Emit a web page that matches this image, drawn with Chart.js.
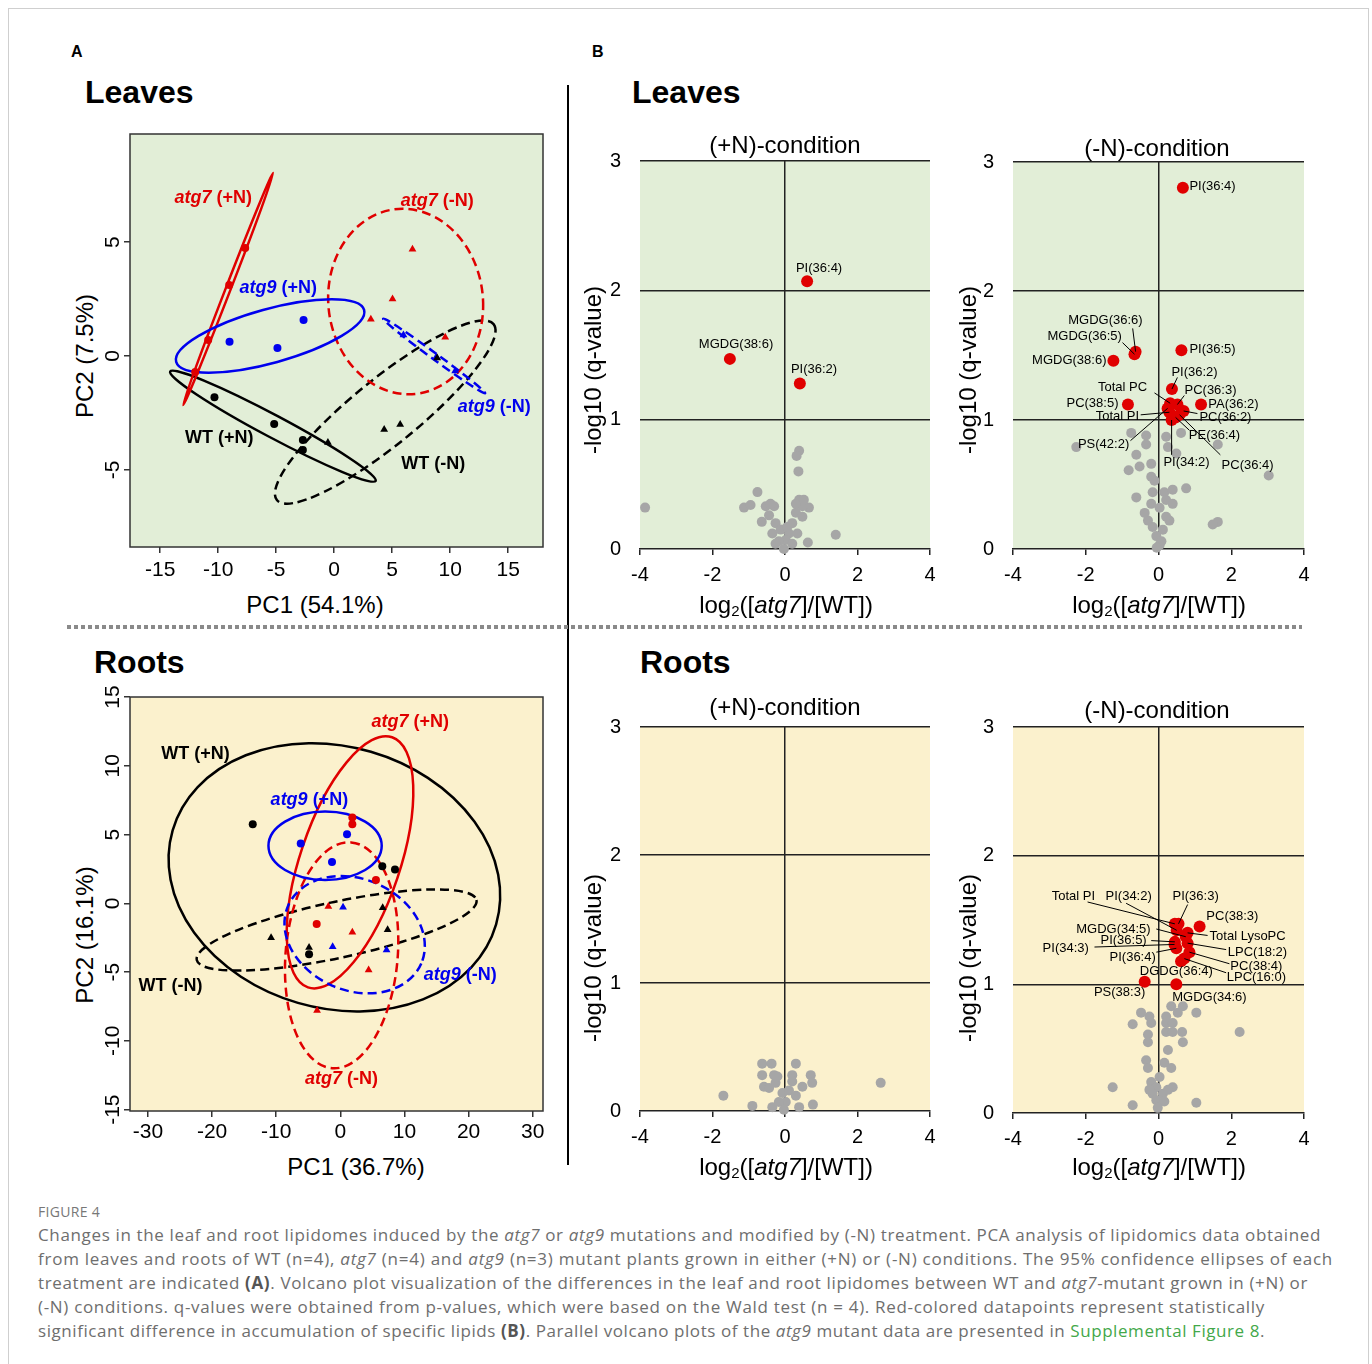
<!DOCTYPE html>
<html>
<head>
<meta charset="utf-8">
<script src="https://cdn.jsdelivr.net/npm/chart.js@4.4.1/dist/chart.umd.min.js"></script>
<style>
  body { margin: 0; background: #fff; width: 1372px; height: 1364px; position: relative; overflow: hidden;
         font-family: "Liberation Sans", Arial, Helvetica, sans-serif; }
  .frame { position: absolute; left: 8px; top: 8px; width: 1359px; height: 1400px; border: 1px solid #cfcfcf; }
  .t { position: absolute; white-space: nowrap; color: #000; }
  .letter { font-weight: bold; font-size: 16px; line-height: 20px; }
  .head { font-weight: bold; font-size: 32px; line-height: 36px; }
  .ctitle { font-size: 24px; line-height: 28px; width: 300px; text-align: center; }
  .xt { font-size: 24px; line-height: 28px; width: 300px; text-align: center; }
  .xt sub { font-size: 15px; vertical-align: -3px; line-height: 0; }
  .yt { font-size: 24px; line-height: 28px; width: 260px; text-align: center; transform: rotate(-90deg); }
  canvas { position: absolute; }
  .vline { position: absolute; left: 567px; top: 85px; width: 2px; height: 1080px; background: #000; }
  .dots { position: absolute; left: 67px; top: 625px; width: 1235px; height: 4px;
          background: repeating-linear-gradient(to right, #8a8a8a 0 4px, transparent 4px 7px); }
  .cap { position: absolute; left: 38px; white-space: nowrap; font-family: "Open Sans", sans-serif;
         font-size: 17px; line-height: 24px; color: #6e6e6e; }
  .cap b { color: #555; }
  .fig { position: absolute; left: 38px; top: 1202px; font-family: "Open Sans", sans-serif; font-size: 14px;
         line-height: 20px; color: #777; white-space: nowrap; letter-spacing: 0.3px; }
  .g { color: #43a84a; }
</style>
</head>
<body>
<div class="frame"></div>

<div class="t letter" style="left:71px;top:42px">A</div>
<div class="t letter" style="left:592px;top:42px">B</div>
<div class="t head" style="left:85px;top:74px">Leaves</div>
<div class="t head" style="left:632px;top:74px">Leaves</div>
<div class="t head" style="left:94px;top:644px">Roots</div>
<div class="t head" style="left:640px;top:644px">Roots</div>

<div class="vline"></div>
<div class="dots"></div>

<canvas id="pcaLeaf" width="460" height="470" style="left:100px;top:120px"></canvas>
<canvas id="pcaRoot" width="460" height="470" style="left:100px;top:680px"></canvas>
<canvas id="volLeafPlus" width="370" height="470" style="left:575px;top:130px"></canvas>
<canvas id="volLeafMinus" width="371" height="470" style="left:948px;top:130px"></canvas>
<canvas id="volRootPlus" width="370" height="465" style="left:575px;top:696px"></canvas>
<canvas id="volRootMinus" width="371" height="467" style="left:948px;top:696px"></canvas>

<div class="t ctitle" style="left:635px;top:131px">(+N)-condition</div>
<div class="t ctitle" style="left:1007px;top:134px">(-N)-condition</div>
<div class="t ctitle" style="left:635px;top:693px">(+N)-condition</div>
<div class="t ctitle" style="left:1007px;top:696px">(-N)-condition</div>

<div class="t xt" style="left:165px;top:591px">PC1 (54.1%)</div>
<div class="t xt" style="left:206px;top:1153px">PC1 (36.7%)</div>
<div class="t xt" style="left:636px;top:591px">log<sub>2</sub>([<i>atg7</i>]/[WT])</div>
<div class="t xt" style="left:1009px;top:591px">log<sub>2</sub>([<i>atg7</i>]/[WT])</div>
<div class="t xt" style="left:636px;top:1153px">log<sub>2</sub>([<i>atg7</i>]/[WT])</div>
<div class="t xt" style="left:1009px;top:1153px">log<sub>2</sub>([<i>atg7</i>]/[WT])</div>

<div class="t yt" style="left:-45px;top:342px">PC2 (7.5%)</div>
<div class="t yt" style="left:-45px;top:921px">PC2 (16.1%)</div>
<div class="t yt" style="left:463px;top:356px">-log10 (q-value)</div>
<div class="t yt" style="left:838px;top:356px">-log10 (q-value)</div>
<div class="t yt" style="left:463px;top:944px">-log10 (q-value)</div>
<div class="t yt" style="left:838px;top:944px">-log10 (q-value)</div>

<div class="fig">FIGURE 4</div>
<div class="cap" data-w="1283" style="top:1223px">Changes in the leaf and root lipidomes induced by the <i>atg7</i> or <i>atg9</i> mutations and modified by (-N) treatment. PCA analysis of lipidomics data obtained</div>
<div class="cap" data-w="1295" style="top:1247px">from leaves and roots of WT (n=4), <i>atg7</i> (n=4) and <i>atg9</i> (n=3) mutant plants grown in either (+N) or (-N) conditions. The 95% confidence ellipses of each</div>
<div class="cap" data-w="1270" style="top:1271px">treatment are indicated <b>(A)</b>. Volcano plot visualization of the differences in the leaf and root lipidomes between WT and <i>atg7</i>-mutant grown in (+N) or</div>
<div class="cap" data-w="1227" style="top:1295px">(-N) conditions. q-values were obtained from p-values, which were based on the Wald test (n = 4). Red-colored datapoints represent statistically</div>
<div class="cap" data-w="1227" style="top:1319px">significant difference in accumulation of specific lipids <b>(B)</b>. Parallel volcano plots of the <i>atg9</i> mutant data are presented in <span class="g">Supplemental Figure 8</span>.</div>

<script>
// ---- PCA scores (PC1, PC2) ----
const pcaGroups = ['WT (+N)', 'WT (-N)', 'atg7 (+N)', 'atg7 (-N)', 'atg9 (+N)', 'atg9 (-N)'];

const leafWTPlus   = [[-10.32, -1.81], [-5.17, -2.98], [-2.70, -3.68], [-2.70, -4.12]];
const leafWTMinus  = [[-0.54, -3.80], [4.31, -3.22], [5.69, -3.00], [8.88, -0.09]];
const leafAtg7Plus = [[-7.67, 4.74], [-9.05, 3.11], [-10.86, 0.70], [-11.98, -0.70]];
const leafAtg7Minus = [[6.75, 4.68], [5.03, 2.50], [3.16, 1.61], [9.57, 0.82]];
const leafAtg9Plus = [[-9.02, 0.63], [-4.89, 0.35], [-2.64, 1.58]];
const leafAtg9Minus = [[5.97, 0.92], [8.80, -0.04], [10.43, -0.66]];

const rootWTPlus   = [[-13.66, 5.75], [6.54, 2.69], [8.52, 2.45], [-4.88, -3.71]];
const rootWTMinus  = [[-10.80, -2.50], [-4.88, -3.22], [6.60, -0.32], [7.37, -1.92]];
const rootAtg7Plus = [[1.87, 6.23], [1.87, 5.75], [5.55, 1.70], [-3.69, -1.50]];
const rootAtg7Minus = [[-1.87, -0.24], [1.87, -2.11], [4.41, -4.85], [-3.63, -7.80]];
const rootAtg9Plus = [[-6.18, 4.34], [1.04, 5.02], [-1.30, 3.00]];
const rootAtg9Minus = [[0.42, -0.29], [-1.20, -3.15], [7.21, -3.40]];

// 95% ellipses: centre, semi-axis a, semi-axis b (PC units), same group order
const leafEllipses = [
  [[-5.28, -3.08], [8.86, -2.40], [-0.45, -0.43]],
  [[4.40, -2.46], [9.34, 3.86], [1.79, -1.12]],
  [[-9.14, 2.94], [3.88, 5.09], [0.20, -0.04]],
  [[6.16, 2.39], [6.68, -0.25], [0.15, 4.06]],
  [[-5.52, 0.88], [8.10, 1.14], [0.62, -1.14]],
  [[8.62, 0.00], [4.40, -1.64], [-0.15, -0.11]]
];
const rootEllipses = [
  [[-0.93, 1.89], [25.22, -3.42], [-5.69, -9.13]],
  [[-0.58, -1.94], [21.81, 2.18], [0.92, -1.99]],
  [[1.51, 2.98], [6.56, 9.09], [7.37, -1.16]],
  [[0.20, -3.78], [1.48, 8.21], [8.71, -0.34]],
  [[-2.38, 4.18], [8.83, 0.00], [0.00, -2.49]],
  [[2.23, -2.28], [10.39, -2.09], [-3.44, -3.72]]
];
// group name placement (PC units)
const leafGroupTags = [[-9.91, -3.60], [8.53, -4.74], [-10.43, 6.93], [8.88, 6.80], [-4.83, 2.98], [13.79, -2.24]];
const rootGroupTags = [[-22.6, 10.84], [-26.48, -6.04], [10.9, 13.16], [0.16, -12.80], [-4.83, 7.49], [18.69, -5.24]];

const leafPcaXTicks = [-15, -10, -5, 0, 5, 10, 15];
const leafPcaYTicks = [-5, 0, 5];
const rootPcaXTicks = [-30, -20, -10, 0, 10, 20, 30];
const rootPcaYTicks = [-15, -10, -5, 0, 5, 10, 15];

// ---- volcano plots: [log2 ratio, -log10 q] ----
const volXTicks = [-4, -2, 0, 2, 4];
const volYTicks = [0, 1, 2, 3];

const leafPlusGray = [[-3.86, 0.32], [-0.76, 0.44], [-1.13, 0.32], [-0.95, 0.34], [-0.64, 0.21], [0.39, 0.76],
  [0.32, 0.72], [0.37, 0.60], [1.40, 0.11], [0.63, 0.05], [-0.53, 0.33], [-0.30, 0.33], [-0.44, 0.26],
  [-0.26, 0.20], [-0.35, 0.12], [0.39, 0.38], [0.66, 0.32], [0.48, 0.33], [0.30, 0.28], [0.20, 0.20],
  [0.48, 0.25], [0.34, 0.12], [0.11, 0.12], [0.02, 0.07], [-0.17, 0.06], [-0.26, 0.04], [0.20, 0.04],
  [-0.03, 0.00], [-0.12, 0.15], [0.06, 0.17], [-0.40, 0.35], [0.30, 0.35], [0.52, 0.38]];
const leafPlusSig = [['PI(36:4)', 0.61, 2.07], ['MGDG(38:6)', -1.52, 1.47], ['PI(36:2)', 0.41, 1.28]];
const leafPlusTags = [[0.94, 2.17, 'center'], [-1.35, 1.58, 'center'], [0.80, 1.39, 'center']];

const leafMinusGray = [[-2.26, 0.79], [-0.75, 0.90], [-0.34, 0.88], [-0.61, 0.73], [-0.82, 0.61], [-0.52, 0.64],
  [-0.20, 0.66], [-0.34, 0.81], [0.21, 0.87], [0.26, 0.79], [0.49, 0.74], [0.62, 0.90], [1.63, 0.81],
  [3.03, 0.57], [0.76, 0.47], [-0.20, 0.56], [-0.61, 0.40], [-0.16, 0.44], [0.16, 0.44], [0.39, 0.46],
  [0.21, 0.38], [-0.20, 0.35], [0.39, 0.35], [0.03, 0.32], [-0.29, 0.22], [0.30, 0.22], [-0.16, 0.17],
  [0.12, 0.15], [-0.06, 0.10], [0.03, 0.03], [1.63, 0.21], [1.49, 0.19], [0.21, 0.25], [-0.38, 0.28],
  [-0.11, 0.53], [0.08, 0.06], [-0.05, 0.01]];
const leafMinusSig = [['PI(36:4)', 0.67, 2.80], ['MGDG(36:6)', -0.63, 1.53], ['MGDG(36:5)', -0.66, 1.51],
  ['MGDG(38:6)', -1.24, 1.46], ['PI(36:5)', 0.63, 1.54], ['PI(36:2)', 0.37, 1.24], ['Total PC', 0.32, 1.13],
  ['PC(36:3)', 0.52, 1.12], ['PC(38:5)', -0.84, 1.12], ['PA(36:2)', 1.17, 1.12], ['Total PI', 0.30, 1.06],
  ['PC(36:2)', 0.69, 1.07], ['PS(42:2)', 0.25, 1.09], ['PE(36:4)', 0.47, 1.02], ['PI(34:2)', 0.36, 1.00],
  ['PC(36:4)', 0.58, 1.04]];
// [label x, label y, align, leader start x, leader start y]
const leafMinusTags = [[0.85, 2.81, 'left'], [-1.46, 1.77, 'center', -0.71, 1.71], [-2.03, 1.65, 'center', -0.99, 1.60],
  [-1.43, 1.46, 'right'], [0.85, 1.55, 'left'], [0.99, 1.37, 'center', 0.52, 1.33],
  [-0.99, 1.25, 'center', -0.11, 1.21], [1.43, 1.23, 'center', 0.71, 1.19], [-1.10, 1.13, 'right'],
  [1.37, 1.12, 'left'], [-1.13, 1.03, 'center', -0.49, 1.04], [1.84, 1.02, 'center', 1.07, 1.05],
  [-1.51, 0.81, 'center', -0.77, 0.84], [1.54, 0.88, 'center', 0.85, 0.92], [0.77, 0.67, 'center', 0.36, 0.73],
  [2.45, 0.65, 'center', 1.70, 0.73]];

const rootPlusGray = [[-0.63, 0.37], [-0.37, 0.37], [0.30, 0.37], [-1.70, 0.12], [-0.90, 0.04], [2.64, 0.22],
  [-0.63, 0.28], [-0.30, 0.28], [0.71, 0.28], [0.20, 0.28], [-0.58, 0.19], [-0.26, 0.22], [0.48, 0.19],
  [0.75, 0.22], [0.39, 0.03], [0.77, 0.05], [-0.35, 0.03], [-0.07, 0.14], [0.11, 0.16], [0.02, 0.07],
  [-0.17, 0.07], [-0.03, 0.01], [0.20, 0.23], [-0.21, 0.27], [-0.44, 0.18], [0.30, 0.12]];

const rootMinusGray = [[-0.48, 0.78], [-0.71, 0.69], [-0.25, 0.75], [-0.20, 0.70], [-0.29, 0.61], [-0.29, 0.55],
  [-0.34, 0.41], [-0.29, 0.35], [0.35, 0.83], [0.67, 0.83], [0.53, 0.78], [0.21, 0.75], [0.21, 0.70],
  [0.39, 0.70], [0.21, 0.63], [0.39, 0.63], [0.65, 0.63], [1.04, 0.78], [0.67, 0.55], [2.23, 0.63],
  [0.26, 0.49], [0.16, 0.39], [0.35, 0.35], [-1.26, 0.20], [0.39, 0.20], [1.04, 0.08], [-0.71, 0.06],
  [-0.20, 0.24], [-0.06, 0.20], [-0.16, 0.15], [0.12, 0.15], [-0.06, 0.10], [0.16, 0.09], [-0.02, 0.04],
  [-0.25, 0.18], [0.26, 0.18], [0.03, 0.28]];
const rootMinusSig = [['Total PI', 0.45, 1.47], ['PI(34:2)', 0.50, 1.42], ['PI(36:3)', 0.55, 1.47],
  ['PC(38:3)', 1.13, 1.45], ['MGDG(34:5)', 0.75, 1.37], ['Total LysoPC', 0.80, 1.40], ['PI(36:5)', 0.45, 1.33],
  ['PI(34:3)', 0.44, 1.31], ['LPC(18:2)', 0.80, 1.32], ['PI(36:4)', 0.49, 1.28], ['PC(38:4)', 0.85, 1.25],
  ['DGDG(36:4)', 0.62, 1.18], ['LPC(16:0)', 0.71, 1.20], ['PS(38:3)', -0.38, 1.02], ['MGDG(34:6)', 0.49, 1.00]];
const rootMinusTags = [[-2.34, 1.68, 'center', -1.95, 1.64], [-0.82, 1.68, 'center', -0.89, 1.63],
  [1.02, 1.68, 'center', 0.80, 1.62], [2.03, 1.53, 'center'], [-1.24, 1.43, 'center', -0.06, 1.43],
  [2.45, 1.37, 'center', 1.35, 1.38], [-0.96, 1.34, 'center', -0.20, 1.34], [-2.55, 1.28, 'center', -1.76, 1.29],
  [2.72, 1.25, 'center', 1.86, 1.27], [-0.71, 1.21, 'center', -0.06, 1.25], [2.69, 1.14, 'center', 1.95, 1.16],
  [0.49, 1.10, 'center'], [2.69, 1.05, 'center', 1.86, 1.09], [-1.07, 0.94, 'center'], [1.40, 0.90, 'center']];

// ---- styling ----
const FONT = '"Liberation Sans", Arial, Helvetica, sans-serif';
const RED = '#e00000', BLUE = '#0000ee', BLACK = '#000000', GRAY = '#a6a6a6';
const LEAF_BG = '#e2eed7', ROOT_BG = '#fbf1cd';
const groupStyle = [
  { color: BLACK, shape: 'circle', dashed: false },
  { color: BLACK, shape: 'triangle', dashed: true },
  { color: RED, shape: 'circle', dashed: false },
  { color: RED, shape: 'triangle', dashed: true },
  { color: BLUE, shape: 'circle', dashed: false },
  { color: BLUE, shape: 'triangle', dashed: true }
];

const toXY = arr => arr.map(p => ({ x: p[0], y: p[1] }));
const fixTicks = vals => s => { s.ticks = vals.map(v => ({ value: v })); };

// ---- plugins ----
const panelFill = {
  id: 'panelFill',
  beforeDraw(chart, args, opts) {
    const { ctx, chartArea: a } = chart;
    ctx.save();
    ctx.fillStyle = opts.color;
    ctx.fillRect(a.left, a.top, a.right - a.left, a.bottom - a.top);
    ctx.restore();
  }
};

const frameBox = {
  id: 'frameBox',
  afterDraw(chart) {
    const { ctx, chartArea: a } = chart;
    ctx.save();
    ctx.strokeStyle = '#333';
    ctx.lineWidth = 1.5;
    ctx.strokeRect(a.left, a.top, a.right - a.left, a.bottom - a.top);
    ctx.restore();
  }
};

// rotated y tick labels (vertical text, as in the R plots)
const sideTicks = {
  id: 'sideTicks',
  afterDraw(chart, args, opts) {
    const { ctx, chartArea: a, scales: { y } } = chart;
    ctx.save();
    ctx.font = `21px ${FONT}`;
    ctx.fillStyle = '#000';
    ctx.textAlign = 'center';
    ctx.textBaseline = 'middle';
    y.ticks.forEach(t => {
      ctx.save();
      ctx.translate(a.left - opts.offset, y.getPixelForValue(t.value));
      ctx.rotate(-Math.PI / 2);
      ctx.fillText(String(t.value), 0, 0);
      ctx.restore();
    });
    ctx.restore();
  }
};

const ellipses = {
  id: 'ellipses',
  beforeDatasetsDraw(chart, args, opts) {
    const { ctx, chartArea: a, scales: { x, y } } = chart;
    ctx.save();
    ctx.beginPath();
    ctx.rect(a.left, a.top, a.right - a.left, a.bottom - a.top);
    ctx.clip();
    opts.list.forEach((e, i) => {
      const st = groupStyle[i];
      const px = x.getPixelForValue(e[0][0]), py = y.getPixelForValue(e[0][1]);
      const ax = x.getPixelForValue(e[0][0] + e[1][0]) - px, ay = y.getPixelForValue(e[0][1] + e[1][1]) - py;
      const bx = x.getPixelForValue(e[0][0] + e[2][0]) - px, by = y.getPixelForValue(e[0][1] + e[2][1]) - py;
      ctx.save();
      ctx.beginPath();
      ctx.transform(ax, ay, bx, by, px, py);
      ctx.arc(0, 0, 1, 0, Math.PI * 2);
      ctx.restore();
      ctx.lineWidth = 2.5;
      ctx.strokeStyle = st.color;
      ctx.setLineDash(st.dashed ? [9, 5] : []);
      ctx.stroke();
    });
    ctx.restore();
  }
};

const groupTags = {
  id: 'groupTags',
  afterDatasetsDraw(chart, args, opts) {
    const { ctx, scales: { x, y } } = chart;
    ctx.save();
    ctx.textBaseline = 'middle';
    ctx.textAlign = 'left';
    opts.list.forEach((p, i) => {
      const name = pcaGroups[i];
      const cut = name.indexOf(' ');
      const head = name.slice(0, cut), tail = name.slice(cut);
      const italicHead = head !== 'WT';
      const f1 = `${italicHead ? 'italic ' : ''}bold 18px ${FONT}`, f2 = `bold 18px ${FONT}`;
      ctx.font = f1; const w1 = ctx.measureText(head).width;
      ctx.font = f2; const w2 = ctx.measureText(tail).width;
      const sx = x.getPixelForValue(p[0]) - (w1 + w2) / 2, cy = y.getPixelForValue(p[1]);
      ctx.fillStyle = groupStyle[i].color;
      ctx.font = f1; ctx.fillText(head, sx, cy);
      ctx.font = f2; ctx.fillText(tail, sx + w1, cy);
    });
    ctx.restore();
  }
};

const lipidTags = {
  id: 'lipidTags',
  afterDatasetsDraw(chart, args, opts) {
    const { ctx, scales: { x, y } } = chart;
    ctx.save();
    ctx.font = `13px ${FONT}`;
    ctx.fillStyle = '#000';
    ctx.strokeStyle = '#000';
    ctx.lineWidth = 1;
    ctx.textBaseline = 'middle';
    opts.sig.forEach((s, i) => {
      const t = opts.tags[i];
      if (t.length > 3) {
        ctx.beginPath();
        ctx.moveTo(x.getPixelForValue(t[3]), y.getPixelForValue(t[4]));
        ctx.lineTo(x.getPixelForValue(s[1]), y.getPixelForValue(s[2]));
        ctx.stroke();
      }
    });
    opts.sig.forEach((s, i) => {
      const t = opts.tags[i];
      ctx.textAlign = t[2];
      ctx.fillText(s[0], x.getPixelForValue(t[0]), y.getPixelForValue(t[1]));
    });
    ctx.restore();
  }
};

// ---- chart builders ----
function pcaChart(id, groups, ell, tags, xr, yr, xTicks, yTicks, bg, pad) {
  const datasets = groups.map((g, i) => ({
    label: pcaGroups[i],
    data: toXY(g),
    pointStyle: groupStyle[i].shape,
    pointRadius: groupStyle[i].shape === 'circle' ? 4 : 4.5,
    backgroundColor: groupStyle[i].color,
    borderColor: groupStyle[i].color,
    borderWidth: 0
  }));
  return new Chart(document.getElementById(id), {
    type: 'scatter',
    data: { datasets },
    plugins: [panelFill, ellipses, groupTags, frameBox, sideTicks],
    options: {
      responsive: false, animation: false, devicePixelRatio: 1,
      layout: { padding: { top: pad.top, right: pad.right, left: 0, bottom: 0 } },
      plugins: {
        legend: { display: false }, tooltip: { enabled: false },
        panelFill: { color: bg }, ellipses: { list: ell }, groupTags: { list: tags }, sideTicks: { offset: 17 }
      },
      scales: {
        x: {
          min: xr[0], max: xr[1], afterBuildTicks: fixTicks(xTicks), afterFit: s => { s.height = pad.bottom; },
          grid: { drawOnChartArea: false, tickLength: 6, tickColor: '#333', lineWidth: 1.5 },
          border: { display: false },
          ticks: { color: '#000', font: { size: 21, family: FONT }, padding: pad.tick, maxRotation: 0 }
        },
        y: {
          min: yr[0], max: yr[1], afterBuildTicks: fixTicks(yTicks), afterFit: s => { s.width = 30; },
          grid: { drawOnChartArea: false, tickLength: 6, tickColor: '#333', lineWidth: 1.5 },
          border: { display: false },
          ticks: { display: false }
        }
      }
    }
  });
}

function volcanoChart(id, gray, sig, tags, bg, pad) {
  return new Chart(document.getElementById(id), {
    type: 'scatter',
    data: {
      datasets: [
        { label: 'n.s.', data: toXY(gray), pointRadius: 5, backgroundColor: GRAY, borderWidth: 0, clip: false },
        { label: 'q < 0.1', data: sig.map(s => ({ x: s[1], y: s[2] })), pointRadius: 6,
          backgroundColor: RED, borderWidth: 0, clip: false }
      ]
    },
    plugins: [panelFill, lipidTags],
    options: {
      responsive: false, animation: false, devicePixelRatio: 1,
      layout: { padding: { top: pad.top, right: pad.right, left: 0, bottom: 0 } },
      plugins: {
        legend: { display: false }, tooltip: { enabled: false },
        panelFill: { color: bg }, lipidTags: { sig, tags }
      },
      scales: {
        x: {
          min: -4, max: 4, afterBuildTicks: fixTicks(volXTicks), afterFit: s => { s.height = pad.bottom; },
          grid: {
            color: c => (c.tick && c.tick.value === 0 ? '#222' : 'rgba(0,0,0,0)'),
            tickColor: '#222', tickLength: 6, lineWidth: 1.5
          },
          border: { display: true, color: '#222', width: 1.5 },
          ticks: { color: '#000', font: { size: 20, family: FONT }, padding: 8, maxRotation: 0 }
        },
        y: {
          min: 0, max: 3, afterBuildTicks: fixTicks(volYTicks), afterFit: s => { s.width = 65; },
          grid: { color: c => (c.tick && c.tick.value > 0 ? '#222' : 'rgba(0,0,0,0)'), drawTicks: false, lineWidth: 1.5 },
          border: { display: false },
          ticks: { color: '#000', font: { size: 20, family: FONT }, padding: 19 }
        }
      }
    }
  });
}

pcaChart('pcaLeaf',
  [leafWTPlus, leafWTMinus, leafAtg7Plus, leafAtg7Minus, leafAtg9Plus, leafAtg9Minus],
  leafEllipses, leafGroupTags, [-17.6, 18.0], [-8.38, 9.74], leafPcaXTicks, leafPcaYTicks, LEAF_BG,
  { top: 14, right: 17, bottom: 43, tick: 5 });
pcaChart('pcaRoot',
  [rootWTPlus, rootWTMinus, rootAtg7Plus, rootAtg7Minus, rootAtg9Plus, rootAtg9Minus],
  rootEllipses, rootGroupTags, [-32.8, 31.6], [-15.1, 15.0], rootPcaXTicks, rootPcaYTicks, ROOT_BG,
  { top: 17, right: 17, bottom: 39, tick: 3 });

volcanoChart('volLeafPlus', leafPlusGray, leafPlusSig, leafPlusTags, LEAF_BG, { top: 30, right: 15, bottom: 51 });
volcanoChart('volLeafMinus', leafMinusGray, leafMinusSig, leafMinusTags, LEAF_BG, { top: 32, right: 15, bottom: 51 });
volcanoChart('volRootPlus', rootPlusGray, [], [], ROOT_BG, { top: 30, right: 15, bottom: 50 });
volcanoChart('volRootMinus', rootMinusGray, rootMinusSig, rootMinusTags, ROOT_BG, { top: 31, right: 15, bottom: 50 });

// caption lines spread to their column width
document.querySelectorAll('.cap').forEach(el => {
  const w = el.getBoundingClientRect().width;
  const n = el.textContent.length;
  el.style.letterSpacing = ((+el.dataset.w - w) / n) + 'px';
});
</script>
</body>
</html>
